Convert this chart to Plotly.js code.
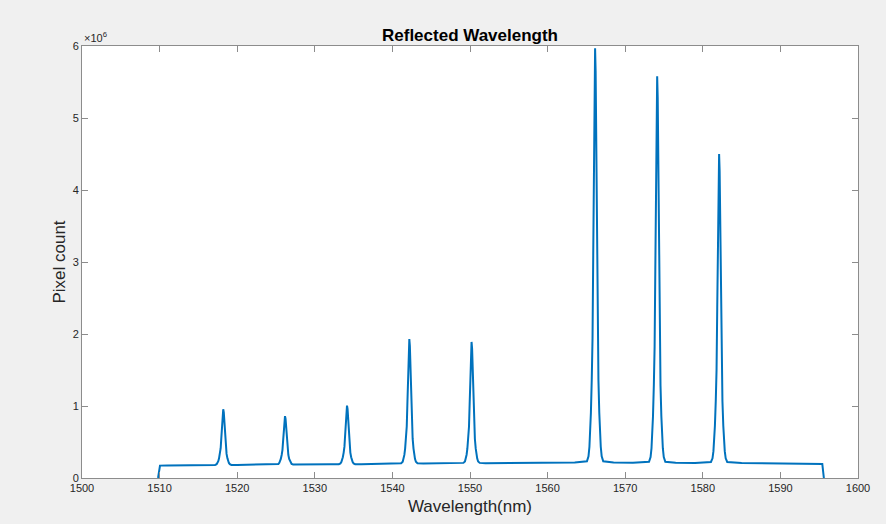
<!DOCTYPE html>
<html>
<head>
<meta charset="utf-8">
<script src="https://cdn.plot.ly/plotly-3.0.1.min.js"></script>
<style>html,body{margin:0;padding:0;background:#f0f0f0;}#chart{width:886px;height:524px;}</style>
</head>
<body>
<div id="chart"></div>
<script>
// Wavelength (nm)
const wavelengthNm = [
  1509.8, 1510.05, 1511, 1513, 1515, 1516.5,
  1517.15, 1517.35, 1517.47, 1517.56, 1517.66, 1517.77, 1517.87, 1517.96, 1518.06, 1518.13, 1518.2, 1518.27, 1518.34, 1518.44, 1518.53, 1518.63, 1518.74, 1518.84, 1518.93, 1519.05, 1519.25,
  1520, 1522, 1524,
  1525.11, 1525.31, 1525.43, 1525.52, 1525.62, 1525.73, 1525.83, 1525.92, 1526.02, 1526.09, 1526.16, 1526.23, 1526.30, 1526.40, 1526.49, 1526.59, 1526.70, 1526.80, 1526.89, 1527.01, 1527.21,
  1528, 1530, 1532,
  1533.10, 1533.30, 1533.42, 1533.51, 1533.61, 1533.72, 1533.82, 1533.91, 1534.01, 1534.08, 1534.15, 1534.22, 1534.29, 1534.39, 1534.48, 1534.58, 1534.69, 1534.79, 1534.88, 1535.00, 1535.20,
  1536, 1538, 1540,
  1541.13, 1541.33, 1541.45, 1541.54, 1541.64, 1541.75, 1541.85, 1541.94, 1542.04, 1542.11, 1542.18, 1542.25, 1542.32, 1542.42, 1542.51, 1542.61, 1542.72, 1542.82, 1542.91, 1543.03, 1543.23,
  1544, 1546, 1548,
  1549.15, 1549.35, 1549.47, 1549.56, 1549.66, 1549.77, 1549.87, 1549.96, 1550.06, 1550.13, 1550.2, 1550.27, 1550.34, 1550.44, 1550.53, 1550.63, 1550.74, 1550.84, 1550.93, 1551.05, 1551.25,
  1552, 1555, 1558, 1561, 1563.5,
  1565.07, 1565.27, 1565.39, 1565.48, 1565.58, 1565.69, 1565.79, 1565.88, 1565.98, 1566.05, 1566.12, 1566.19, 1566.26, 1566.36, 1566.45, 1566.55, 1566.66, 1566.76, 1566.85, 1566.97, 1567.17,
  1568.5, 1571,
  1573.07, 1573.27, 1573.39, 1573.48, 1573.58, 1573.69, 1573.79, 1573.88, 1573.98, 1574.05, 1574.12, 1574.19, 1574.26, 1574.36, 1574.45, 1574.55, 1574.66, 1574.76, 1574.85, 1574.97, 1575.17,
  1576.5, 1579,
  1581.05, 1581.25, 1581.37, 1581.46, 1581.56, 1581.67, 1581.77, 1581.86, 1581.96, 1582.03, 1582.1, 1582.17, 1582.24, 1582.34, 1582.43, 1582.53, 1582.64, 1582.74, 1582.83, 1582.95, 1583.15,
  1585, 1588, 1591, 1593.5, 1595.4, 1595.6
];

// Pixel count, in units of 10^6
const pixelCountMillions = [
  0, 0.172, 0.174, 0.176, 0.178, 0.179,
  0.182, 0.192, 0.209, 0.234, 0.273, 0.335, 0.413, 0.568, 0.800, 0.912, 0.955, 0.912, 0.800, 0.568, 0.413, 0.335, 0.273, 0.234, 0.209, 0.192, 0.182,
  0.181, 0.183, 0.185,
  0.187, 0.195, 0.211, 0.232, 0.266, 0.320, 0.388, 0.523, 0.725, 0.823, 0.860, 0.823, 0.725, 0.523, 0.388, 0.320, 0.266, 0.232, 0.211, 0.195, 0.187,
  0.186, 0.188, 0.190,
  0.192, 0.202, 0.221, 0.247, 0.288, 0.353, 0.435, 0.598, 0.842, 0.960, 1.005, 0.960, 0.842, 0.598, 0.435, 0.353, 0.288, 0.247, 0.221, 0.202, 0.192,
  0.192, 0.196, 0.199,
  0.205, 0.226, 0.266, 0.321, 0.408, 0.546, 0.719, 1.065, 1.584, 1.835, 1.930, 1.835, 1.584, 1.065, 0.719, 0.546, 0.408, 0.321, 0.266, 0.226, 0.205,
  0.201, 0.203, 0.205,
  0.210, 0.230, 0.269, 0.323, 0.407, 0.542, 0.711, 1.048, 1.553, 1.797, 1.890, 1.797, 1.553, 1.048, 0.711, 0.542, 0.407, 0.323, 0.269, 0.230, 0.210,
  0.206, 0.208, 0.210, 0.212, 0.214,
  0.232, 0.301, 0.434, 0.618, 0.906, 1.366, 1.942, 3.093, 4.819, 5.654, 5.970, 5.654, 4.819, 3.093, 1.942, 1.366, 0.906, 0.618, 0.434, 0.301, 0.232,
  0.214, 0.212,
  0.226, 0.291, 0.414, 0.586, 0.854, 1.284, 1.821, 2.895, 4.506, 5.285, 5.580, 5.285, 4.506, 2.895, 1.821, 1.284, 0.854, 0.586, 0.414, 0.291, 0.226,
  0.211, 0.210,
  0.223, 0.274, 0.373, 0.510, 0.725, 1.068, 1.497, 2.355, 3.642, 4.264, 4.500, 4.264, 3.642, 2.355, 1.497, 1.068, 0.725, 0.510, 0.373, 0.274, 0.223,
  0.207, 0.204, 0.200, 0.197, 0.195, 0
];

const xTickValues = [1500, 1510, 1520, 1530, 1540, 1550, 1560, 1570, 1580, 1590, 1600];
const yTickValues = [0, 1, 2, 3, 4, 5, 6];
const yTickLabels = ['0', '1', '2', '3', '4', '5', '6'];

const FONT = '"Liberation Sans", Arial, Helvetica, sans-serif';
const AX = '#8c8c8c';
const TXT = '#262626';

const trace = {
  x: wavelengthNm,
  y: pixelCountMillions,
  type: 'scatter',
  mode: 'lines',
  line: { color: '#0072BD', width: 2 },
  hoverinfo: 'x+y'
};

const layout = {
  width: 886, height: 524,
  paper_bgcolor: '#f0f0f0',
  plot_bgcolor: '#ffffff',
  margin: { l: 82, r: 28, t: 46, b: 46, pad: 0 },
  showlegend: false,
  font: { family: FONT, color: TXT },
  title: {
    text: '<b>Reflected Wavelength</b>',
    font: { family: FONT, size: 17, color: '#000000' },
    xref: 'paper', x: 0.5, xanchor: 'center',
    yref: 'container', y: 1 - 35 / 524, yanchor: 'middle'
  },
  xaxis: {
    range: [1500, 1600],
    tickmode: 'array', tickvals: xTickValues,
    ticks: 'inside', ticklen: 6, tickwidth: 1, tickcolor: AX,
    showline: true, linecolor: AX, linewidth: 1, mirror: 'allticks',
    showgrid: false, zeroline: false,
    tickfont: { family: FONT, size: 11, color: TXT },
    title: { text: 'Wavelength(nm)', font: { family: FONT, size: 17, color: TXT }, standoff: 6 },
    automargin: false
  },
  yaxis: {
    range: [0, 6],
    tickmode: 'array', tickvals: yTickValues, ticktext: yTickLabels,
    ticks: 'inside', ticklen: 6, tickwidth: 1, tickcolor: AX,
    showline: true, linecolor: AX, linewidth: 1, mirror: 'allticks',
    showgrid: false, zeroline: false,
    tickfont: { family: FONT, size: 11, color: TXT },
    title: { text: 'Pixel count', font: { family: FONT, size: 17, color: TXT }, standoff: 2 },
    automargin: false
  },
  annotations: [{
    xref: 'paper', yref: 'paper', x: 0, y: 1,
    xanchor: 'left', yanchor: 'bottom', yshift: 0,
    text: '×10<sup>6</sup>', showarrow: false,
    font: { family: FONT, size: 11, color: TXT }
  }]
};

Plotly.newPlot('chart', [trace], layout, { displayModeBar: false });
</script>
</body>
</html>
